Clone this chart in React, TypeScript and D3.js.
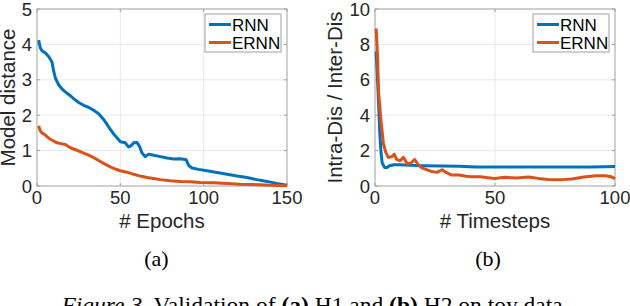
import React from "react";
import * as d3 from "d3";

// (a) model distance vs epochs
const epochsRNN: [number, number][] = [
  [1, 4.12], [2, 3.9], [3, 3.82], [5, 3.76], [7, 3.66], [8, 3.58], [9, 3.5],
  [10, 3.25], [11, 3.05], [13, 2.86], [15, 2.74], [17, 2.66], [20, 2.55],
  [22, 2.47], [25, 2.36], [28, 2.28], [31, 2.22], [34, 2.14], [37, 2.04],
  [40, 1.88], [42, 1.74], [44, 1.6], [46, 1.47], [48, 1.36], [50, 1.25],
  [53, 1.22], [55, 1.1], [56.5, 1.14], [58, 1.22], [60, 1.23], [61.5, 1.12],
  [63, 0.93], [65, 0.83], [67, 0.9], [70, 0.87], [74, 0.83], [78, 0.79],
  [82, 0.76], [86, 0.77], [89.5, 0.74], [91, 0.58], [93, 0.51], [97, 0.47],
  [102, 0.43], [108, 0.38], [114, 0.33], [120, 0.28], [126, 0.24],
  [132, 0.18], [138, 0.13], [144, 0.07], [150, 0.02],
];
const epochsERNN: [number, number][] = [
  [1, 1.7], [2, 1.55], [3, 1.5], [5, 1.44], [8, 1.32], [12, 1.22], [15, 1.19],
  [17, 1.17], [20, 1.08], [24, 1.01], [28, 0.93], [31, 0.87], [34, 0.8],
  [37, 0.72], [40, 0.64], [44, 0.54], [47, 0.48], [50, 0.43], [54, 0.39],
  [58, 0.33], [62, 0.28], [66, 0.24], [70, 0.21], [74, 0.18], [80, 0.15],
  [86, 0.13], [92, 0.12], [98, 0.1], [106, 0.09], [114, 0.07], [122, 0.05],
  [130, 0.04], [140, 0.02], [150, 0.01],
];

// (b) intra / inter distance vs timesteps
const stepsRNN: [number, number][] = [
  [0.5, 7.6], [1, 6.2], [1.5, 4.6], [2, 3.0], [2.5, 1.9], [3, 1.3],
  [4, 1.05], [5, 1.04], [6, 1.14], [8, 1.2], [10, 1.2], [15, 1.17],
  [20, 1.15], [28, 1.13], [35, 1.11], [42, 1.08], [50, 1.07], [60, 1.07],
  [70, 1.07], [80, 1.07], [90, 1.08], [100, 1.1],
];
const stepsERNN: [number, number][] = [
  [0.5, 8.9], [1, 7.5], [1.5, 5.3], [2.5, 3.7], [3.5, 2.4], [4.5, 1.9],
  [5.5, 1.62], [7, 1.65], [8, 1.8], [9, 1.5], [10.5, 1.42], [11.8, 1.62],
  [13.5, 1.25], [15, 1.3], [16.5, 1.5], [18, 1.2], [19.5, 1.02], [21.5, 0.92],
  [24, 0.8], [26, 0.78], [28, 0.92], [30, 0.74], [32, 0.62], [35, 0.62],
  [38, 0.55], [40, 0.52], [44, 0.52], [47, 0.47], [50, 0.42], [54, 0.5],
  [59, 0.45], [64, 0.51], [68, 0.43], [72, 0.37], [78, 0.36], [82, 0.4],
  [87, 0.51], [92, 0.58], [96, 0.58], [98.5, 0.52], [100, 0.42],
];

const xTicksA = [0, 50, 100, 150];
const yTicksA = [0, 1, 2, 3, 4, 5];
const xTicksB = [0, 50, 100];
const yTicksB = [0, 2, 4, 6, 8, 10];
const seriesNames = ["RNN", "ERNN"];
const colors = ["#0072BD", "#D95319"];

const SANS = "'Liberation Sans', Arial, Helvetica, sans-serif";
const SERIF = "'Liberation Serif', 'Times New Roman', serif";

type PanelProps = {
  left: number;
  right: number;
  xMax: number;
  yMax: number;
  xTicks: number[];
  yTicks: number[];
  series: [number, number][][];
  xLabel: string;
  yLabel: string;
  yLabelX: number;
  sub: string;
  subX: number;
};

const Panel = (p: PanelProps) => {
  const top = 9;
  const bottom = 186;
  const x = d3.scaleLinear().domain([0, p.xMax]).range([p.left, p.right]);
  const y = d3.scaleLinear().domain([0, p.yMax]).range([bottom, top]);
  const line = d3
    .line<[number, number]>()
    .x((d) => x(d[0]))
    .y((d) => y(d[1]));
  const axisColor = "#a0a0a0";
  const lgX = p.right - 82;
  return (
    <g>
      {/* grid */}
      {p.xTicks.slice(1, -1).map((t) => (
        <line key={"gx" + t} x1={x(t)} x2={x(t)} y1={top} y2={bottom} stroke="#e8e8e8" strokeWidth={1} />
      ))}
      {p.yTicks.slice(1, -1).map((t) => (
        <line key={"gy" + t} x1={p.left} x2={p.right} y1={y(t)} y2={y(t)} stroke="#e8e8e8" strokeWidth={1} />
      ))}
      {/* box */}
      <rect x={p.left} y={top} width={p.right - p.left} height={bottom - top} fill="none" stroke={axisColor} strokeWidth={1} />
      {/* ticks */}
      {p.xTicks.map((t) => (
        <g key={"tx" + t}>
          <line x1={x(t)} x2={x(t)} y1={bottom} y2={bottom - 3} stroke={axisColor} />
          <line x1={x(t)} x2={x(t)} y1={top} y2={top + 3} stroke={axisColor} />
          <text x={x(t)} y={bottom + 18} textAnchor="middle" fontSize={18.5} fill="#262626" fontFamily={SANS}>{t}</text>
        </g>
      ))}
      {p.yTicks.map((t) => (
        <g key={"ty" + t}>
          <line x1={p.left} x2={p.left + 3} y1={y(t)} y2={y(t)} stroke={axisColor} />
          <line x1={p.right} x2={p.right - 3} y1={y(t)} y2={y(t)} stroke={axisColor} />
          <text x={p.left - 5} y={y(t)} dy="0.36em" textAnchor="end" fontSize={18.5} fill="#262626" fontFamily={SANS}>{t}</text>
        </g>
      ))}
      {/* data */}
      {p.series.map((s, i) => (
        <path key={"s" + i} d={line(s) || ""} fill="none" stroke={colors[i]} strokeWidth={3} strokeLinejoin="round" />
      ))}
      {/* legend */}
      <rect x={lgX} y={14} width={76} height={38} fill="white" stroke={axisColor} strokeWidth={1} />
      {seriesNames.map((n, i) => (
        <g key={n}>
          <line x1={lgX + 4} x2={lgX + 26} y1={24.5 + i * 18} y2={24.5 + i * 18} stroke={colors[i]} strokeWidth={3} />
          <text x={lgX + 27} y={24.5 + i * 18} dy="0.36em" fontSize={17} fill="#000" fontFamily={SANS}>{n}</text>
        </g>
      ))}
      {/* labels */}
      <text x={(p.left + p.right) / 2} y={228} textAnchor="middle" fontSize={20.5} fill="#262626" fontFamily={SANS}>{p.xLabel}</text>
      <text transform={`translate(${p.yLabelX},${(top + bottom) / 2}) rotate(-90)`} textAnchor="middle" fontSize={20.5} fill="#262626" fontFamily={SANS}>{p.yLabel}</text>
      <text x={p.subX} y={266} textAnchor="middle" fontSize={22} fill="#000" fontFamily={SERIF}>{p.sub}</text>
    </g>
  );
};

const App = () => {
  return (
    <svg width={630} height={306} style={{ position: "absolute", left: 0, top: 0, background: "white" }}>
      <Panel left={37} right={287} xMax={150} yMax={5} xTicks={xTicksA} yTicks={yTicksA}
        series={[epochsRNN, epochsERNN]} xLabel="# Epochs" yLabel="Model distance" yLabelX={15} sub="(a)" subX={156.5} />
      <Panel left={375} right={615} xMax={100} yMax={10} xTicks={xTicksB} yTicks={yTicksB}
        series={[stepsRNN, stepsERNN]} xLabel="# Timesteps" yLabel="Intra-Dis / Inter-Dis" yLabelX={342} sub="(b)" subX={488} />
      <text x={315} y={313} textAnchor="middle" fontSize={23.5} fill="#000" fontFamily={SERIF}>
        <tspan fontStyle="italic">Figure 3.</tspan> Validation of <tspan fontWeight="bold">(a)</tspan> H1 and{" "}
        <tspan fontWeight="bold">(b)</tspan> H2 on toy data.
      </text>
    </svg>
  );
};

export default App;
